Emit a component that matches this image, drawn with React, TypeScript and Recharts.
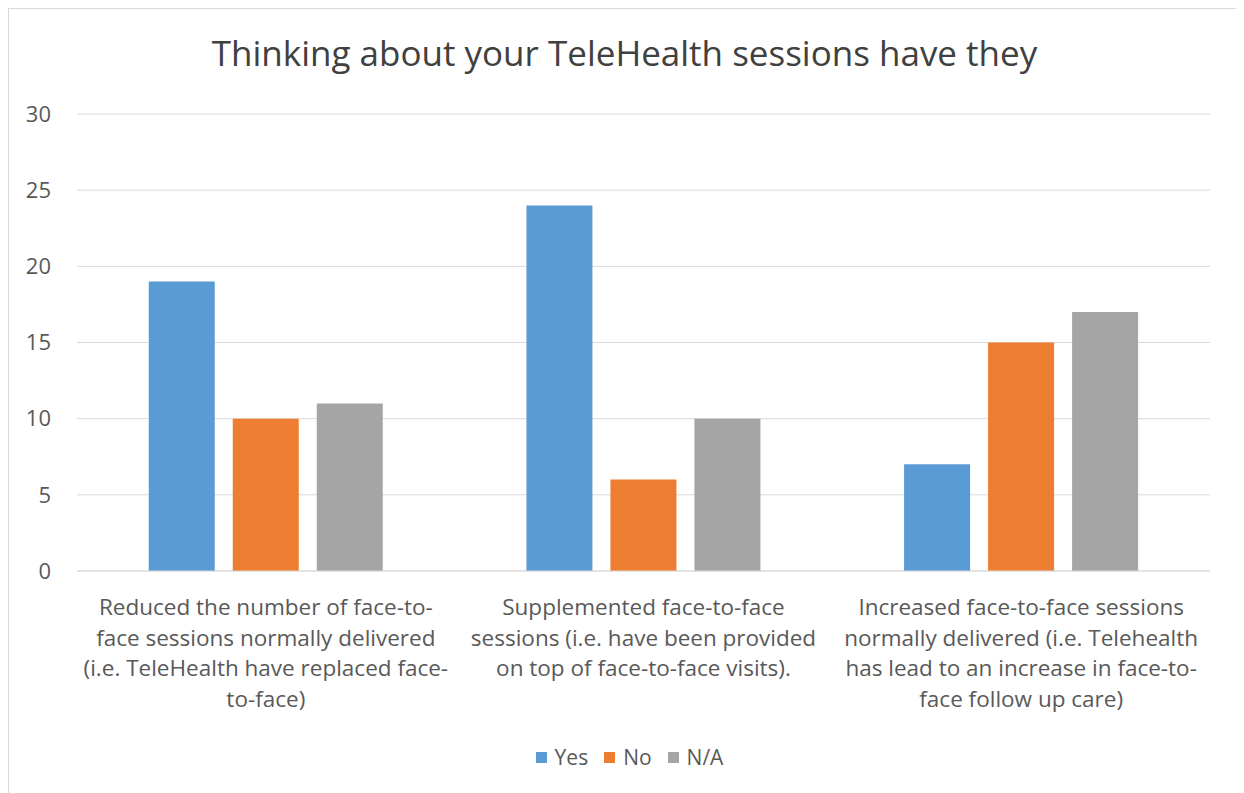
import React from "react";
import { BarChart, Bar, XAxis, YAxis, CartesianGrid, Legend } from "recharts";

const categories = [
  "Reduced the number of face-to-face sessions normally delivered (i.e. TeleHealth have replaced face-to-face)",
  "Supplemented face-to-face sessions (i.e. have been provided on top of face-to-face visits).",
  "Increased face-to-face sessions normally delivered (i.e. Telehealth has lead to an increase in face-to-face follow up care)",
];
const categoryLines = [
  ["Reduced the number of face-to-", "face sessions normally delivered", "(i.e. TeleHealth have replaced face-", "to-face)"],
  ["Supplemented face-to-face", "sessions (i.e. have been provided", "on top of face-to-face visits)."],
  ["Increased face-to-face sessions", "normally delivered (i.e. Telehealth", "has lead to an increase in face-to-", "face follow up care)"],
];
const seriesNames = ["Yes", "No", "N/A"];
const seriesColors = ["#5B9BD5", "#ED7D31", "#A5A5A5"];
const yesValues = [19, 24, 7];
const noValues = [10, 6, 15];
const naValues = [11, 10, 17];
const yTicks = [0, 5, 10, 15, 20, 25, 30];

const data = categories.map((c, i) => ({
  name: c,
  Yes: yesValues[i],
  No: noValues[i],
  "N/A": naValues[i],
}));

const FONT = "'Open Sans', sans-serif";

const CatTick = (props: any) => {
  const { x, y, payload } = props;
  const lines = categoryLines[payload.index] || [payload.value];
  return (
    <g>
      {lines.map((l: string, i: number) => (
        <text
          key={i}
          x={x}
          y={y + 36 + i * 30.7}
          textAnchor="middle"
          fill="#595959"
          fontSize={22.5}
          fontFamily={FONT}
        >
          {l}
        </text>
      ))}
    </g>
  );
};

const renderLegend = () => (
  <div
    style={{
      display: "flex",
      justifyContent: "center",
      alignItems: "center",
      height: 30,
      fontSize: 21,
      fontFamily: FONT,
      color: "#595959",
      paddingLeft: 22,
    }}
  >
    {seriesNames.map((n, i) => (
      <div key={n} style={{ display: "flex", alignItems: "center", marginRight: i < 2 ? 16 : 0 }}>
        <span
          style={{
            display: "inline-block",
            width: 11,
            height: 11,
            background: seriesColors[i],
            marginRight: 8,
          }}
        />
        <span>{n}</span>
      </div>
    ))}
  </div>
);

export default function App() {
  return (
    <div
      style={{
        position: "relative",
        width: 1233,
        height: 800,
        border: "1px solid #d9d9d9",
        boxSizing: "border-box",
        background: "#fff",
        fontFamily: FONT,
      }}
    >
      <div
        style={{
          position: "absolute",
          left: 0,
          right: 0,
          top: 20,
          textAlign: "center",
          fontSize: 35,
          color: "#404040",
          fontFamily: FONT,
          whiteSpace: "nowrap",
        }}
      >
        Thinking about your TeleHealth sessions have they
      </div>
      <BarChart
        width={1231}
        height={790}
        data={data}
        margin={{ top: 105, right: 30, left: 18, bottom: 0 }}
        barCategoryGap="19%"
        barGap={18}
      >
        <CartesianGrid vertical={false} stroke="#d9d9d9" />
        <XAxis
          dataKey="name"
          tick={<CatTick />}
          tickLine={false}
          axisLine={{ stroke: "#d9d9d9" }}
          interval={0}
          height={198}
        />
        <YAxis
          domain={[0, 30]}
          ticks={yTicks}
          tickLine={false}
          axisLine={false}
          width={50}
          tickMargin={20}
          tick={{ fill: "#595959", fontSize: 22, fontFamily: FONT }}
        />
        <Legend verticalAlign="bottom" wrapperStyle={{ bottom: 27 }} content={renderLegend} />
        <Bar dataKey="Yes" fill={seriesColors[0]} isAnimationActive={false} />
        <Bar dataKey="No" fill={seriesColors[1]} isAnimationActive={false} />
        <Bar dataKey="N/A" fill={seriesColors[2]} isAnimationActive={false} />
      </BarChart>
    </div>
  );
}
